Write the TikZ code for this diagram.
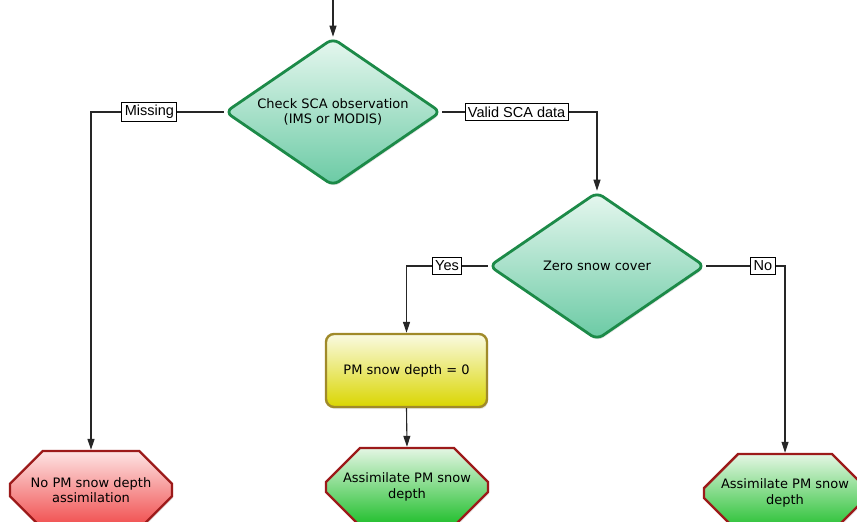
\documentclass[tikz,border=0pt]{standalone}
\usepackage{fontspec}
\setmainfont{DejaVu Sans}
\newfontfamily\lblfont{Liberation Sans}
\usetikzlibrary{shapes.geometric,shapes.misc,arrows.meta,shadows}

\definecolor{dmdline}{HTML}{1C8A48}
\definecolor{dmdtop}{HTML}{E6F7EF}
\definecolor{dmdmid}{HTML}{A2DEC3}
\definecolor{dmdbot}{HTML}{6ACAA4}
\definecolor{boxline}{HTML}{A08A2A}
\definecolor{boxtop}{HTML}{FAFAE2}
\definecolor{boxbot}{HTML}{DAD600}
\definecolor{octline}{HTML}{9C1A1A}
\definecolor{redtop}{HTML}{FDE4E4}
\definecolor{redbot}{HTML}{F04848}
\definecolor{grntop}{HTML}{E4F6E4}
\definecolor{grnbot}{HTML}{1EBE2A}

\tikzset{
  nodetext/.style={font=\fontsize{13}{15.5}\selectfont, align=center, text=black},
  shade/.style={drop shadow={opacity=0.2, shadow xshift=1pt, shadow yshift=-2pt}},
  decision/.style={nodetext, diamond, draw=dmdline, line width=2.8pt,
    rounded corners=7pt, inner sep=0pt, text width=1pt,
    minimum width=216pt, minimum height=148pt, shade,
    top color=dmdtop, middle color=dmdmid, bottom color=dmdbot},
  process/.style={nodetext, rectangle, draw=boxline, line width=2.4pt,
    rounded corners=8pt, minimum width=161pt, minimum height=73pt, shade,
    top color=boxtop, bottom color=boxbot},
  terminal/.style={nodetext, chamfered rectangle, draw=octline, line width=2.4pt,
    chamfered rectangle xsep=32pt, chamfered rectangle ysep=20pt,
    minimum width=162pt, minimum height=78pt, inner sep=0pt, shade},
  lbl/.style={font=\lblfont\fontsize{14.5}{16}\selectfont, draw=black, fill=white,
    line width=0.9pt, inner xsep=3pt, inner ysep=3pt},
  flow/.style={draw=black!85, line width=1.1pt, -{Triangle[length=11pt,width=7pt]}}
}

\begin{document}
\begin{tikzpicture}[x=1pt,y=-1pt]
\path[use as bounding box, clip] (0,0) rectangle (857,522);
\fill[white] (0,0) rectangle (857,522);

% decisions
\node[decision] (chk) at (333,112) {};
\node[nodetext] at (chk.center) {Check SCA observation\\(IMS or MODIS)};
\node[decision] (zero) at (597,266) {};
\node[nodetext] at (zero.center) {Zero snow cover};

% process and end points
\node[process] (zeroset) at (406.5,370.5) {PM snow depth = 0};
\node[terminal, top color=redtop, bottom color=redbot] (nopm) at (91,490) {No PM snow depth\\assimilation};
\node[terminal, top color=grntop, bottom color=grnbot] (assima) at (407,487) {Assimilate PM snow\\depth};
\node[terminal, top color=grntop, bottom color=grnbot] (assimb) at (785,493) {Assimilate PM snow\\depth};

% connectors
\coordinate (start) at (333,0);
\draw[flow] (start) -- (chk.north);
\draw[flow] (chk.west) -| node[lbl, pos=0.28] {Missing} (nopm.north);
\draw[flow] (chk.east) -| node[lbl, pos=0.24] {Valid SCA data} (zero.north);
\draw[flow] (zero.west) -| node[lbl, pos=0.25] {Yes} (zeroset.north);
\draw[flow] (zero.east) -| node[lbl, pos=0.36] {No} (assimb.north);
\draw[flow] (zeroset.south) -- (assima.north);
%\draw[flow] (assima.south) -- ++(0,30);
\end{tikzpicture}
\end{document}
